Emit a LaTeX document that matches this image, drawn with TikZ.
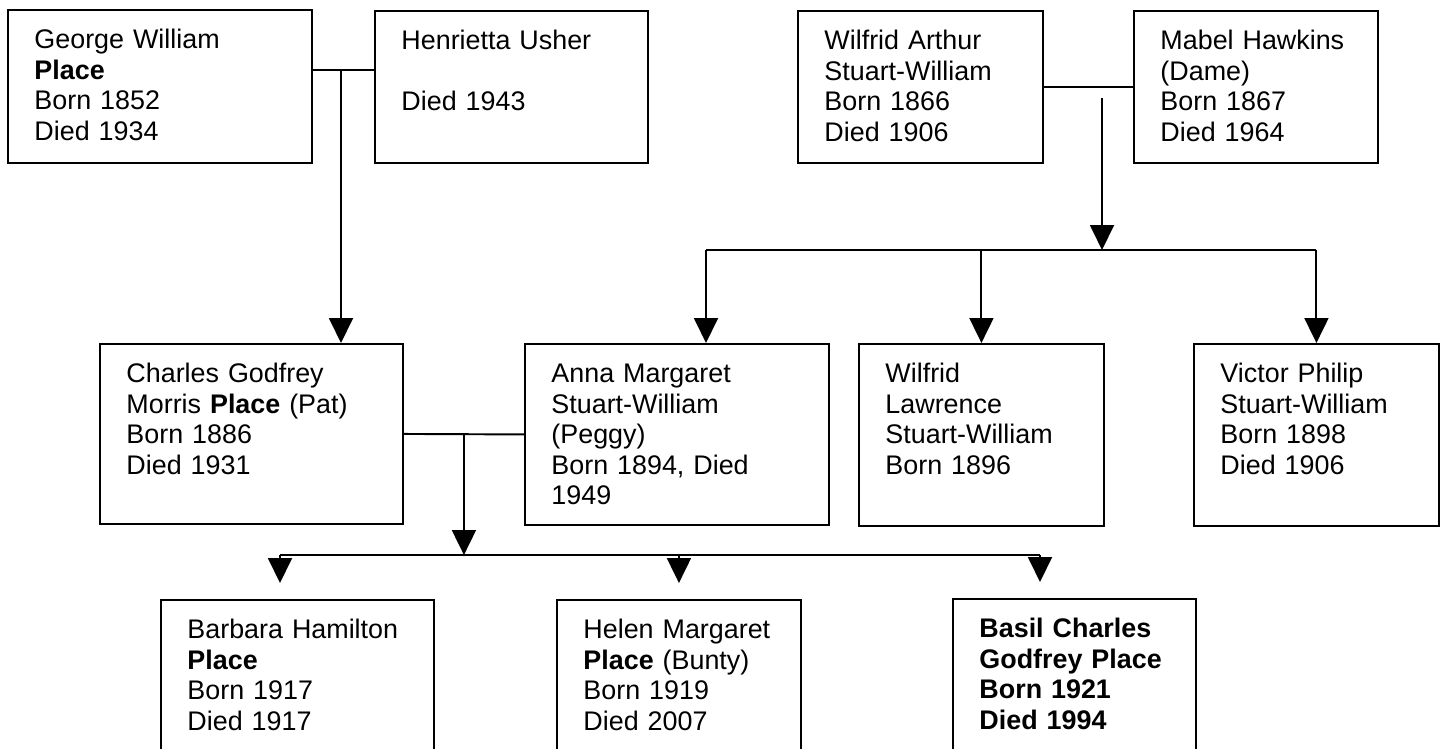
\documentclass[tikz,border=0pt]{standalone}
\usepackage{fontspec}
\setmainfont{Liberation Sans}
\usetikzlibrary{arrows.meta,calc}

\begin{document}
\begin{tikzpicture}[x=0.02cm,y=-0.02cm,
        person/.style 2 args={draw=black,line width=1.1pt,anchor=north west,align=left,
            inner xsep=0.53cm,inner ysep=0pt,text width=#1-1.06cm,
            text height=0.78cm,text depth=#2-0.78cm,
            font=\fontsize{15.3pt}{17.3pt}\selectfont},
        link/.style={black,line width=1.1pt},
        child/.style={link,-{Triangle[width=0.48cm,length=0.5cm]}}]
    \useasboundingbox (0,0) rectangle (1443,749);

    % first generation
    \node[person={6.08cm}{3.06cm}] (george) at (7,9) {George William\\\textbf{Place}\\Born 1852\\Died 1934};
    \node[person={5.46cm}{3.04cm}] (henrietta) at (374,10) {Henrietta Usher\\\mbox{}\\Died 1943};
    \node[person={4.9cm}{3.04cm}] (wilfrid) at (797,10) {Wilfrid Arthur\\Stuart-William\\Born 1866\\Died 1906};
    \node[person={4.88cm}{3.04cm}] (mabel) at (1133,10) {Mabel Hawkins\\(Dame)\\Born 1867\\Died 1964};

    % second generation
    \node[person={6.06cm}{3.6cm}] (charles) at (99,343) {Charles Godfrey\\Morris \textbf{Place} (Pat)\\Born 1886\\Died 1931};
    \node[person={6.08cm}{3.62cm}] (anna) at (524,343) {Anna Margaret\\Stuart-William\\(Peggy)\\Born 1894, Died\\1949};
    \node[person={4.9cm}{3.64cm}] (lawrence) at (858,343) {Wilfrid\\Lawrence\\Stuart-William\\Born 1896};
    \node[person={4.9cm}{3.64cm}] (victor) at (1193,343) {Victor Philip\\Stuart-William\\Born 1898\\Died 1906};

    % third generation (cut off at the bottom)
    \node[person={5.46cm}{4cm}] (barbara) at (160,599) {Barbara Hamilton\\\textbf{Place}\\Born 1917\\Died 1917};
    \node[person={4.88cm}{4cm}] (helen) at (556,599) {Helen Margaret\\\textbf{Place} (Bunty)\\Born 1919\\Died 2007};
    \node[person={4.86cm}{4cm}] (basil) at (952,598) {\textbf{Basil Charles}\\\textbf{Godfrey Place}\\\textbf{Born 1921}\\\textbf{Died 1994}};

    % George + Henrietta
    \coordinate (gh) at (341,70);
    \draw[link] (george.east |- gh) -- (henrietta.west |- gh);
    \draw[child] (gh) -- (gh |- charles.north);

    % Wilfrid + Mabel
    \draw[link] (wilfrid.east) -- (mabel.west);
    \coordinate (wmtop) at (1102,98);
    \coordinate (wm) at (1102,250);
    \coordinate (wmleft) at (706,250);
    \draw[child] (wmtop) -- (wm);
    \draw[link] (wmleft) -- (wmleft -| victor.north);
    \draw[child] (wmleft) -- (wmleft |- anna.north);
    \draw[child] (wmleft -| lawrence.north) -- (lawrence.north);
    \draw[child] (wmleft -| victor.north) -- (victor.north);

    % Charles + Anna
    \draw[link] (charles.east) -- (anna.west);
    \coordinate (ca) at ($(charles.east)!0.5!(anna.west)$);
    \coordinate (caleft) at (280,555);
    \coordinate (caright) at (1040,555);
    \draw[child] (ca) -- (ca |- caleft);
    \draw[link] (caleft) -- (caright);
    \draw[child,shorten >=0.32cm] (caleft) -- (caleft |- barbara.north);
    \draw[child,shorten >=0.32cm] (caleft -| helen.north) -- (helen.north);
    \draw[child,shorten >=0.32cm] (caright) -- (caright |- basil.north);
\end{tikzpicture}
\end{document}
